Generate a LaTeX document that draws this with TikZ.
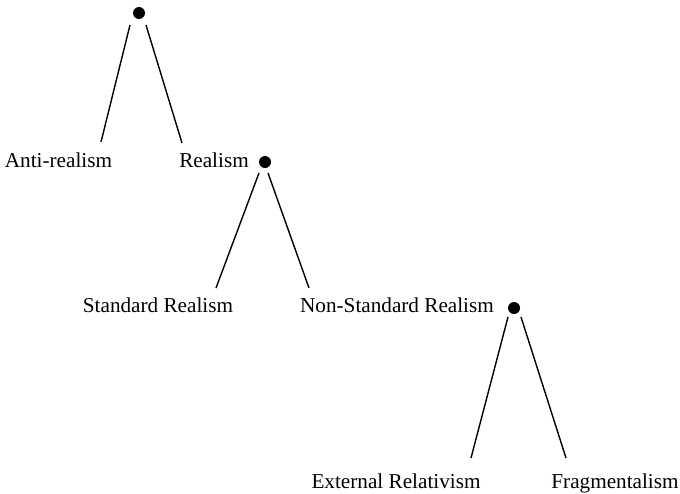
\documentclass[tikz,border=0pt]{standalone}
\usepackage{fontspec}
\setmainfont{Liberation Serif}
\usetikzlibrary{positioning}

\begin{document}
\begin{tikzpicture}[x=0.5pt,y=-0.5pt,
dot/.style={circle,fill=black,inner sep=0pt,minimum size=6pt},
lbl/.style={anchor=base,inner sep=0pt,font=\fontsize{10.6}{12.7}\selectfont},
branch/.style={line width=0.7pt}]
\useasboundingbox (0,0) rectangle (680,493);
\node[dot] (D0) at (139,13) {};
\node[dot] (D1) at (265,162) {};
\node[dot] (D2) at (514,308) {};
\node[lbl] (Anti) at (58.5,167) {Anti-realism};
\node[lbl] (Real) at (214,167) {Realism};
\node[lbl] (Std) at (158,312) {Standard Realism};
\node[lbl] (NonStd) at (397,312) {Non-Standard Realism};
\node[lbl] (Ext) at (396,488) {External Relativism};
\node[lbl] (Frag) at (615,488) {Fragmentalism};
\draw[branch] ([shift={(-9,12)}]D0.center)--([shift={(42.5,-25)}]Anti.base);
\draw[branch] ([shift={(7,12)}]D0.center)--([shift={(-32,-24)}]Real.base);
\draw[branch] ([shift={(-6,11)}]D1.center)--([shift={(58,-24)}]Std.base);
\draw[branch] ([shift={(3,11)}]D1.center)--([shift={(-88,-24)}]NonStd.base);
\draw[branch] ([shift={(-6,9)}]D2.center)--([shift={(75,-30)}]Ext.base);
\draw[branch] ([shift={(7,9)}]D2.center)--([shift={(-49,-30)}]Frag.base);
\end{tikzpicture}
\end{document}
